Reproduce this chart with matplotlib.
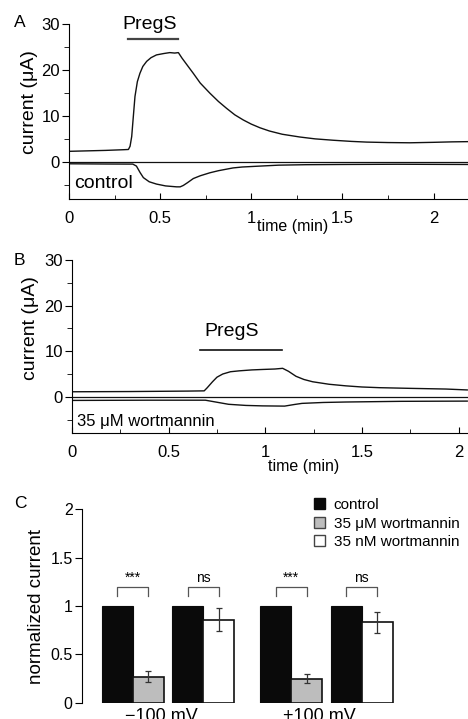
import matplotlib
matplotlib.use("Agg")
import matplotlib.pyplot as plt
from matplotlib.patches import Patch
from matplotlib.ticker import FuncFormatter, MultipleLocator

plt.rcParams['font.family'] = ['Liberation Sans', 'DejaVu Sans']

# ---- panel A: control oocyte (current in uA vs time in min)
a_up_t = [0.0, 0.1, 0.2, 0.3, 0.326, 0.335, 0.344, 0.352, 0.362, 0.375, 0.389, 0.405,
          0.426, 0.45, 0.48, 0.52, 0.553, 0.58, 0.6, 0.62, 0.65, 0.682, 0.72, 0.773,
          0.82, 0.865, 0.91, 0.956, 1.0, 1.048, 1.1, 1.17, 1.267, 1.35, 1.45, 1.55,
          1.633, 1.75, 1.87, 2.0, 2.1, 2.19]
a_up_i = [2.4, 2.5, 2.6, 2.75, 2.8, 3.5, 5.6, 9.5, 14.3, 17.5, 19.3, 20.8,
          21.9, 22.7, 23.3, 23.6, 23.8, 23.7, 23.8, 22.6, 21.0, 19.3, 17.2, 15.0,
          13.2, 11.7, 10.3, 9.2, 8.3, 7.5, 6.8, 6.1, 5.5, 5.1, 4.8, 4.55,
          4.4, 4.3, 4.25, 4.35, 4.45, 4.5]
a_lo_t = [0.0, 0.2, 0.35, 0.37, 0.39, 0.408, 0.44, 0.48, 0.53, 0.59, 0.61, 0.627,
          0.65, 0.682, 0.72, 0.773, 0.82, 0.865, 0.9, 0.95, 1.048, 1.15, 1.3, 1.5,
          1.8, 2.19]
a_lo_i = [-0.3, -0.35, -0.37, -0.8, -2.2, -3.3, -4.2, -4.7, -5.1, -5.3, -5.3, -5.0,
          -4.4, -3.5, -2.9, -2.25, -1.8, -1.46, -1.2, -1.0, -0.8, -0.6, -0.5, -0.45,
          -0.4, -0.45]
a_pregs = [0.325, 0.6]

# ---- panel B: 35 uM wortmannin
b_up_t = [0.0, 0.3, 0.6, 0.684, 0.70, 0.727, 0.75, 0.78, 0.82, 0.866, 0.93, 0.986,
          1.05, 1.09, 1.12, 1.159, 1.2, 1.245, 1.33, 1.417, 1.5, 1.59, 1.75, 1.935, 2.045]
b_up_i = [1.1, 1.15, 1.25, 1.3, 2.0, 3.3, 4.3, 5.0, 5.5, 5.7, 5.9, 6.0,
          6.1, 6.25, 5.6, 4.5, 3.8, 3.3, 2.75, 2.4, 2.15, 2.0, 1.85, 1.7, 1.5]
b_lo_t = [0.0, 0.4, 0.69, 0.75, 0.81, 0.9, 0.986, 1.1, 1.15, 1.19, 1.3, 1.417, 1.7, 2.045]
b_lo_i = [-0.8, -0.75, -0.75, -1.2, -1.65, -1.9, -2.0, -2.05, -1.7, -1.45, -1.25,
          -1.15, -1.0, -0.95]
b_pregs = [0.662, 1.086]

# ---- panel C: normalized current
voltages = ["\u2212100 mV", "+100 mV"]
treatments = ["control", "35 \u03bcM wortmannin", "35 nM wortmannin"]
wm_um_mean = [0.27, 0.25]
wm_um_err = [0.06, 0.05]
wm_nm_mean = [0.86, 0.83]
wm_nm_err = [0.12, 0.11]
control_mean = [1.0, 1.0]
signif = ["***", "ns"]

W, H = 468, 719
fig = plt.figure(figsize=(W / 100, H / 100), dpi=100)


def box(left, top, right, bottom):
    return [left / W, 1 - bottom / H, (right - left) / W, (bottom - top) / H]


fmt = FuncFormatter(lambda v, p: '%g' % v)


def trace_axes(rect, xmax):
    ax = fig.add_axes(rect)
    ax.set_xlim(0, xmax)
    ax.set_ylim(-8, 30)
    for s in ('top', 'right'):
        ax.spines[s].set_visible(False)
    ax.xaxis.set_major_locator(MultipleLocator(0.5))
    ax.xaxis.set_minor_locator(MultipleLocator(0.25))
    ax.yaxis.set_major_locator(MultipleLocator(10))
    ax.yaxis.set_minor_locator(MultipleLocator(5))
    ax.xaxis.set_major_formatter(fmt)
    ax.tick_params(axis='x', which='major', direction='in', length=4, pad=8.5, labelsize=12)
    ax.tick_params(axis='x', which='minor', direction='in', length=3)
    ax.tick_params(axis='y', which='major', direction='out', length=5, pad=1.5, labelsize=12)
    ax.tick_params(axis='y', which='minor', direction='out', length=3.5)
    ax.axhline(0, color='#111111', lw=0.9)
    ax.set_ylabel("current (\u03bcA)", fontsize=14)
    ax.set_xlabel("time (min)", fontsize=11.5)
    return ax


# panel A
axA = trace_axes(box(69, 24, 468, 199.3), 2.189)
axA.plot(a_up_t, a_up_i, color='#111111', lw=1.0)
axA.plot(a_lo_t, a_lo_i, color='#111111', lw=1.0)
axA.plot(a_pregs, [26.7, 26.7], color='#444444', lw=1.6, clip_on=False)
axA.text(sum(a_pregs) / 2 - 0.02, 28.9, "PregS", fontsize=14, ha='center', va='baseline')
axA.text(0.027, -5.65, "control", fontsize=14, ha='left', va='baseline')
axA.yaxis.set_label_coords(-0.078, 0.555)
axA.xaxis.set_label_coords(0.56, -0.11)

# panel B
axB = trace_axes(box(72, 260.2, 468, 433.2), 2.049)
axB.plot(b_up_t, b_up_i, color='#111111', lw=1.0)
axB.plot(b_lo_t, b_lo_i, color='#111111', lw=1.0)
axB.plot(b_pregs, [10.3, 10.3], color='#111111', lw=1.2)
axB.text(0.825, 13.3, "PregS", fontsize=14, ha='center', va='baseline')
axB.text(0.026, -6.44, "35 \u03bcM wortmannin", fontsize=12, ha='left', va='baseline')
axB.yaxis.set_label_coords(-0.084, 0.61)
axB.xaxis.set_label_coords(0.585, -0.15)

# panel C
axC = fig.add_axes(box(81.7, 509.3, 468, 702.7))
axC.set_xlim(0, 12.46)
axC.set_ylim(0, 2)
for s in ('top', 'right', 'bottom'):
    axC.spines[s].set_visible(False)
axC.set_xticks([])
axC.yaxis.set_major_locator(MultipleLocator(0.5))
axC.yaxis.set_major_formatter(fmt)
axC.tick_params(axis='y', direction='out', length=5, pad=1.5, labelsize=11.5)
axC.set_ylabel("normalized current", fontsize=13.5)
axC.yaxis.set_label_coords(-0.095, 0.5)

group_x = [1.645, 6.752]      # boundary of the first pair in each voltage group
pair_gap = 2.28               # offset of the second pair
bw = 1.0
grey = '#bdbdbd'
for g in range(len(voltages)):
    x1 = group_x[g]
    x2 = x1 + pair_gap
    axC.bar([x1 - bw / 2, x2 - bw / 2], [control_mean[g], control_mean[g]], width=bw,
            color='#0a0a0a', edgecolor='#0a0a0a', lw=0.8)
    axC.bar(x1 + bw / 2, wm_um_mean[g], width=bw, color=grey, edgecolor='#111111', lw=1.2)
    axC.bar(x2 + bw / 2, wm_nm_mean[g], width=bw, color='white', edgecolor='#111111', lw=1.2)
    axC.errorbar([x1 + bw / 2, x2 + bw / 2], [wm_um_mean[g], wm_nm_mean[g]],
                 yerr=[wm_um_err[g], wm_nm_err[g]], fmt='none', ecolor='#333333',
                 elinewidth=0.9, capsize=2.5, capthick=0.9)
    for xc, lab in zip([x1, x2], signif):
        axC.plot([xc - bw / 2, xc - bw / 2, xc + bw / 2, xc + bw / 2],
                 [1.1, 1.2, 1.2, 1.1], color='#555555', lw=0.9)
        axC.text(xc, 1.22, lab, fontsize=10, ha='center', va='bottom')
    axC.text((x1 + x2) / 2 - 0.22, -0.05, voltages[g], fontsize=13, ha='center',
             va='top', clip_on=False)

handles = [Patch(facecolor='#0a0a0a', edgecolor='#0a0a0a'),
           Patch(facecolor=grey, edgecolor='#444444'),
           Patch(facecolor='white', edgecolor='#444444')]
fig.legend(handles, treatments, loc='upper left', bbox_to_anchor=(314 / W, 1 - 498 / H),
           frameon=False, fontsize=11, handlelength=0.7, handleheight=0.7,
           handletextpad=0.6, labelspacing=0.3, borderaxespad=0, borderpad=0)

# panel letters
for lab, px, py in [("A", 14, 27.3), ("B", 13.3, 265), ("C", 14, 508.3)]:
    fig.text(px / W, 1 - py / H, lab, fontsize=12.5, ha='left', va='baseline')

fig.savefig("out.png", dpi=100)
